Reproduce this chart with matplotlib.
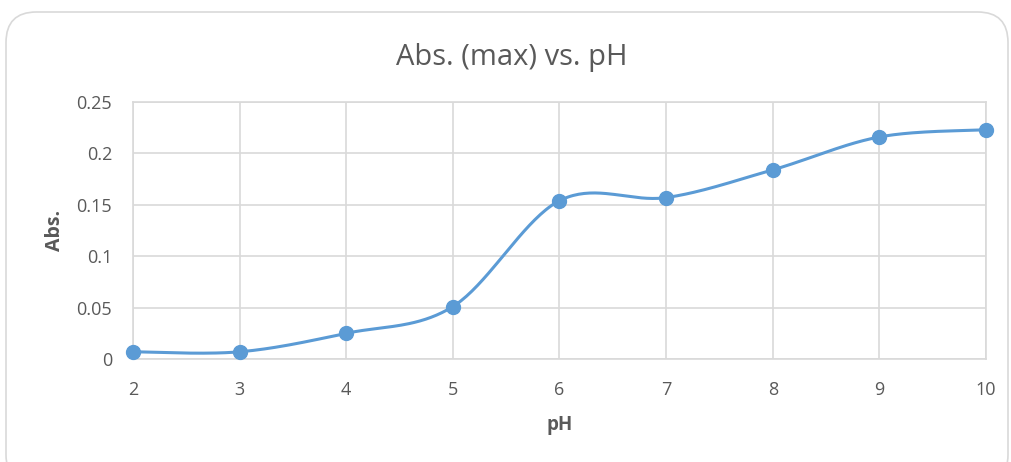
import numpy as np
import matplotlib.pyplot as plt
from matplotlib.patches import FancyBboxPatch

# data
ph = [2, 3, 4, 5, 6, 7, 8, 9, 10]
absorb = [0.007, 0.007, 0.025, 0.051, 0.154, 0.157, 0.184, 0.216, 0.223]
yticks = [0, 0.05, 0.1, 0.15, 0.2, 0.25]
ytick_labels = ["0", "0.05", "0.1", "0.15", "0.2", "0.25"]

plt.rcParams['font.family'] = ['Open Sans', 'DejaVu Sans']


def smooth(x, y, n=40):
    # bezier smoothing like a spreadsheet's "smoothed line"
    x = np.asarray(x, float)
    y = np.asarray(y, float)
    px = np.concatenate([[x[0]], x, [x[-1]]])
    py = np.concatenate([[y[0]], y, [y[-1]]])
    xs, ys = [], []
    t = np.linspace(0, 1, n)
    for i in range(1, len(px) - 2):
        p0 = np.array([px[i], py[i]])
        p3 = np.array([px[i + 1], py[i + 1]])
        c1 = p0 + (p3 - np.array([px[i - 1], py[i - 1]])) / 6
        c2 = p3 - (np.array([px[i + 2], py[i + 2]]) - p0) / 6
        b = ((1 - t) ** 3)[:, None] * p0 + (3 * (1 - t) ** 2 * t)[:, None] * c1 \
            + (3 * (1 - t) * t ** 2)[:, None] * c2 + (t ** 3)[:, None] * p3
        xs.extend(b[:, 0])
        ys.extend(b[:, 1])
    return xs, ys


fig = plt.figure(figsize=(10.12, 4.62), dpi=100)
frame = FancyBboxPatch((6 / 1012, -0.05), 1002 / 1012, 1.0 - 12 / 462 + 0.05,
                       boxstyle="round,pad=0,rounding_size=0.03",
                       transform=fig.transFigure, facecolor="white",
                       edgecolor="#D9D9D9", linewidth=1.2, mutation_aspect=2.2,
                       zorder=-10)
fig.patches.append(frame)

ax = fig.add_axes([133 / 1012, 1 - 359 / 462, (986 - 133) / 1012, (359 - 102) / 462])
ax.patch.set_alpha(0)
sx, sy = smooth(ph, absorb)
ax.plot(sx, sy, color="#5B9BD5", linewidth=2.2, zorder=3, solid_capstyle="round")
ax.plot(ph, absorb, "o", color="#5B9BD5", markersize=10, zorder=4, clip_on=False)

ax.set_xlim(2, 10)
ax.set_ylim(0, 0.25)
ax.set_xticks(ph)
ax.set_yticks(yticks)
ax.set_yticklabels(ytick_labels)
ax.grid(True, color="#D9D9D9", linewidth=1.2)
ax.set_axisbelow(True)
for s in ax.spines.values():
    s.set_color("#D9D9D9")
    s.set_linewidth(1.2)
ax.tick_params(length=0, labelsize=13, colors="#595959")
ax.tick_params(axis="x", pad=16)
ax.tick_params(axis="y", pad=15)

ax.set_xlabel("pH", fontsize=13.5, fontweight="bold", color="#595959", labelpad=11)
ax.set_ylabel("Abs.", fontsize=14, fontweight="bold", color="#595959", labelpad=8)
fig.text(512 / 1012, 1 - 58 / 462, "Abs. (max) vs. pH", ha="center", va="center",
         fontsize=21, color="#595959")

fig.savefig("out.png", dpi=100)
